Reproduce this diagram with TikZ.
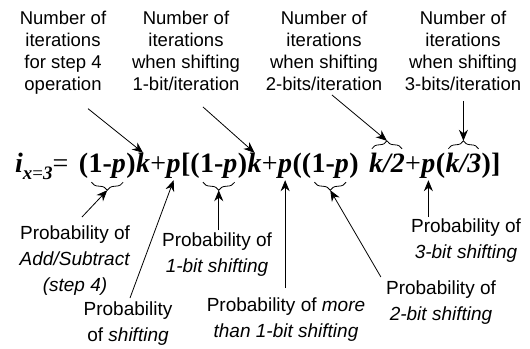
\documentclass[tikz,border=0pt]{standalone}
\usepackage{fontspec}
\setmainfont{Liberation Sans}
\newfontfamily\eqfont{Liberation Serif}
\usetikzlibrary{arrows.meta,positioning,decorations.pathreplacing}
\newcommand{\bi}[1]{\textit{#1}}

\begin{document}
\begin{tikzpicture}[
      x=1pt,y=-1pt,
      >={Stealth[length=11pt,width=9pt]},
      iterlabel/.style={align=center,inner sep=0pt,anchor=north,font=\fontsize{18.5}{22}\selectfont},
      problabel/.style={align=center,inner sep=0pt,anchor=north,font=\fontsize{19}{26}\selectfont},
      eqpart/.style={inner sep=0pt,text height=19pt,text depth=8pt,font=\eqfont\bfseries\fontsize{28}{30}\selectfont},
      nxt/.style={eqpart,base right=0pt of #1},
      arr/.style={->,line width=0.8pt},
      brc/.style={decorate,decoration={brace,amplitude=8pt},line width=0.8pt}
    ]
      \useasboundingbox (0,0) rectangle (530,348);
      \node[iterlabel] (t1) at (63,11) {Number of\\iterations\\for step 4\\operation};
      \node[iterlabel] (t2) at (186,11) {Number of\\iterations\\when shifting\\1-bit/iteration};
      \node[iterlabel] (t3) at (324,11) {Number of\\iterations\\when shifting\\2-bits/iteration};
      \node[iterlabel] (t4) at (463,11) {Number of\\iterations\\when shifting\\3-bits/iteration};
      \node[eqpart,anchor=base west] (lhs) at (15,172) {\bi{i}\raisebox{-7pt}{\fontsize{19}{19}\selectfont\bi{x}{\mdseries=}\bi{3}}{\mdseries=}};
      \node[eqpart,base right=10pt of lhs] (pa1) {(};
      \node[nxt=pa1] (om1) {1-\bi{p}};
      \node[nxt=om1] (pc1) {)};
      \node[nxt=pc1] (k1) {\bi{k}};
      \node[nxt=k1] (pl1) {\mdseries+};
      \node[nxt=pl1] (p1) {\bi{p}};
      \node[nxt=p1] (pa2) {[(};
      \node[nxt=pa2] (om2) {1-\bi{p}};
      \node[nxt=om2] (pc2) {)};
      \node[nxt=pc2] (k2) {\bi{k}};
      \node[nxt=k2] (pl2) {\mdseries+};
      \node[nxt=pl2] (p2) {\bi{p}};
      \node[nxt=p2] (pa3) {((};
      \node[nxt=pa3] (om3) {1-\bi{p}};
      \node[nxt=om3] (pc3) {)};
      \node[eqpart,base right=10pt of pc3] (khalf) {\bi{k/2}};
      \node[nxt=khalf] (pl3) {\mdseries+};
      \node[nxt=pl3] (p3) {\bi{p}};
      \node[nxt=p3] (pa4) {(};
      \node[nxt=pa4] (kthird) {\bi{k/3}};
      \node[nxt=kthird] (pe) {)]};
      \node[problabel] (b1) at (75,226) {Probability of\\\textit{Add/Subtract}\\\textit{(step 4)}};
      \node[problabel] (b2) at (128,302) {Probability\\of \textit{shifting}};
      \node[problabel] (b3) at (217,233) {Probability of\\\textit{1-bit shifting}};
      \node[problabel] (b4) at (286,298) {Probability of \textit{more}\\\textit{than 1-bit shifting}};
      \node[problabel] (b5) at (441,281) {Probability of\\\textit{2-bit shifting}};
      \node[problabel] (b6) at (466,219) {Probability of\\\textit{3-bit shifting}};
      \draw[brc] ([xshift=-3pt,yshift=-2pt]om1.south east) -- ([xshift=3pt,yshift=-2pt]om1.south west);
      \draw[brc] ([xshift=-3pt,yshift=-2pt]om2.south east) -- ([xshift=3pt,yshift=-2pt]om2.south west);
      \draw[brc] ([xshift=-3pt,yshift=-2pt]om3.south east) -- ([xshift=3pt,yshift=-2pt]om3.south west);
      \draw[brc] ([xshift=3pt,yshift=4pt]khalf.north west) -- ([xshift=-3pt,yshift=4pt]khalf.north east);
      \draw[brc] ([xshift=3pt,yshift=4pt]kthird.north west) -- ([xshift=-3pt,yshift=4pt]kthird.north east);
      \draw[arr] ([xshift=25pt,yshift=-14pt]t1.south) -- (k1.north);
      \draw[arr] ([xshift=17pt,yshift=-16pt]t2.south) -- (k2.north);
      \draw[arr] ([xshift=8pt,yshift=-4pt]t3.south) -- ([yshift=12pt]khalf.north);
      \draw[arr,shorten <=10pt,shorten >=12pt] (t4.south -| kthird.north) -- (kthird.north);
      \draw[arr] ([xshift=7pt,yshift=9pt]b1.north) -- ([yshift=-10pt]om1.south);
      \draw[arr] ([xshift=2pt,yshift=4pt]b2.north) -- (p1.south);
      \draw[arr,shorten <=3pt] (b3.north -| om2.south) -- ([yshift=-10pt]om2.south);
      \draw[arr,shorten <=10pt] (b4.north -| p2.south) -- (p2.south);
      \draw[arr] ([xshift=-5pt,yshift=4pt]b5.north west) -- ([yshift=-10pt]om3.south);
      \draw[arr,shorten <=2pt] (b6.north -| p3.south) -- (p3.south);
    \end{tikzpicture}
\end{document}
